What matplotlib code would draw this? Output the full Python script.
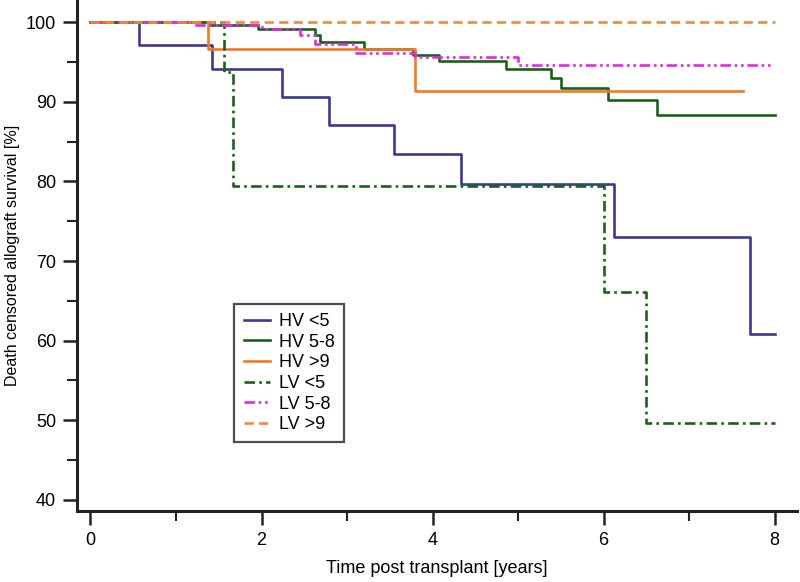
import matplotlib
matplotlib.use("Agg")
import matplotlib.pyplot as plt
from matplotlib import font_manager

# narrow Arial-like face if the system has one, else plain Liberation Sans
_names = {f.name for f in font_manager.fontManager.ttflist}
_narrow = "Liberation Sans Narrow" in _names
plt.rcParams["font.family"] = (["Liberation Sans Narrow"] if _narrow else []) + ["Liberation Sans", "DejaVu Sans"]

# step curves: event times (years) and survival (%) after each step, last point = end of follow-up
hv_lt5_t = [0, 0.57, 1.42, 2.24, 2.79, 3.55, 4.33, 6.12, 7.71, 8.0]
hv_lt5_s = [100, 97.1, 94.1, 90.6, 87.1, 83.5, 79.7, 73.0, 60.9, 60.9]

hv_58_t = [0, 1.40, 1.96, 2.62, 2.68, 3.20, 3.77, 4.07, 4.86, 5.39, 5.50, 6.05, 6.62, 8.0]
hv_58_s = [100, 99.6, 99.1, 98.4, 97.5, 96.6, 95.9, 95.1, 94.1, 93.0, 91.7, 90.2, 88.3, 88.3]

hv_gt9_t = [0, 1.38, 3.80, 7.63]
hv_gt9_s = [100, 96.7, 91.4, 91.4]

lv_lt5_t = [0, 1.56, 1.67, 6.00, 6.50, 8.0]
lv_lt5_s = [100, 93.8, 79.4, 66.1, 49.6, 49.6]

lv_58_t = [0, 1.20, 2.00, 2.45, 2.62, 3.10, 3.79, 5.00, 7.98]
lv_58_s = [100, 99.6, 99.2, 98.4, 97.3, 96.1, 95.6, 94.6, 94.6]

lv_gt9_t = [0, 8.0]
lv_gt9_s = [100, 100]

labels = ["HV <5", "HV 5-8", "HV >9", "LV <5", "LV 5-8", "LV >9"]

navy = "#3a3a8e"
green = "#186218"
orange = "#f07b22"
magenta = "#e02ae0"
orange_lt = "#ee8a3c"

fig = plt.figure(figsize=(8, 5.82), dpi=100)
ax = fig.add_axes([0.096, 0.122, 0.9, 0.878])

lw = 1.9
series = [
    (hv_lt5_t, hv_lt5_s, navy, "-"),
    (hv_58_t, hv_58_s, green, "-"),
    (hv_gt9_t, hv_gt9_s, orange, "-"),
    (lv_lt5_t, lv_lt5_s, green, (0, (4, 1.6, 1, 1.6))),
    (lv_58_t, lv_58_s, magenta, (0, (4, 1.4, 1, 1.4, 1, 1.4))),
    (lv_gt9_t, lv_gt9_s, orange_lt, (0, (3.5, 2))),
]
for (t, s, c, ls), lab in zip(series, labels):
    ax.step(t, s, where="post", color=c, lw=lw, linestyle=ls, label=lab)

ax.set_xlim(-0.16, 8.26)
ax.set_ylim(38.6, 102.8)
ax.set_xticks([0, 2, 4, 6, 8])
ax.set_xticks([1, 3, 5, 7], minor=True)
ax.set_yticks([40, 50, 60, 70, 80, 90, 100])
ax.set_yticks([45, 55, 65, 75, 85, 95], minor=True)

for side in ["top", "right"]:
    ax.spines[side].set_visible(False)
for side in ["left", "bottom"]:
    ax.spines[side].set_linewidth(2.2)
    ax.spines[side].set_color("#222222")

fs = 14 if _narrow else 13
ax.tick_params(which="major", direction="out", length=10, width=1.8, color="#222222",
               labelsize=fs, pad=5)
ax.tick_params(which="minor", direction="out", length=7, width=1.5, color="#222222")

ax.set_xlabel("Time post transplant [years]", fontsize=fs, labelpad=8)
ax.set_ylabel("Death censored allograft survival [%]", fontsize=fs if _narrow else 11.5)
ax.yaxis.set_label_coords(-0.079, 0.5)

leg = ax.legend(loc="upper left", bbox_to_anchor=(0.219, 0.405), fontsize=fs,
                frameon=True, fancybox=False, handlelength=1.45, handletextpad=0.5,
                labelspacing=0.2, borderpad=0.5, borderaxespad=0)
leg.get_frame().set_edgecolor("#222222")
leg.get_frame().set_linewidth(1.6)

fig.savefig("out.png", dpi=100)
